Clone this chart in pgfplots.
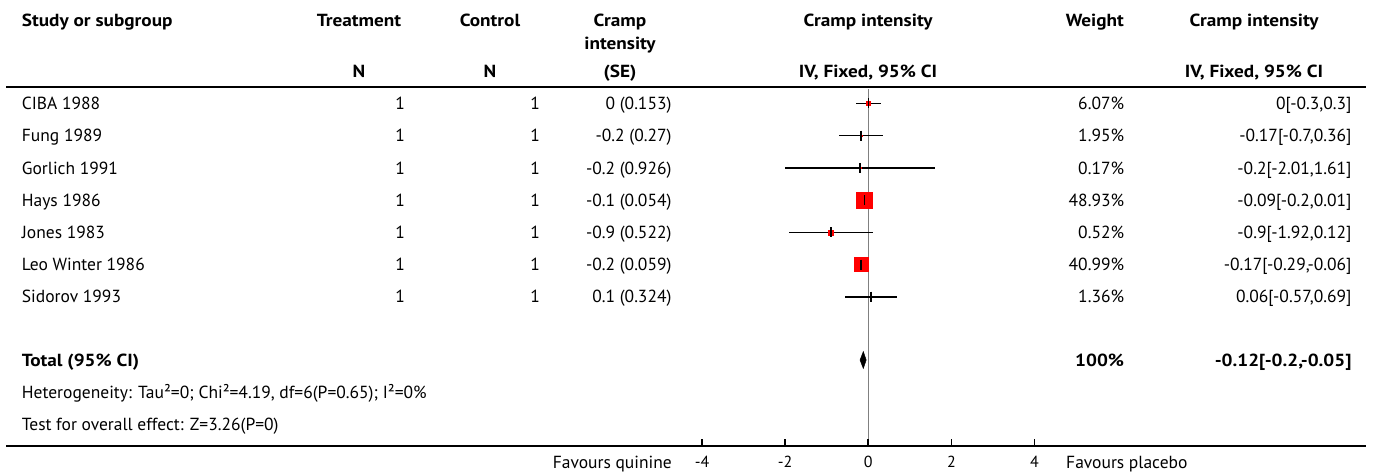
\documentclass[border=0pt]{standalone}
\usepackage{pgfplots}
\pgfplotsset{compat=1.18}
\usepackage{pgfplotstable}
\usepackage{fontspec}
\setmainfont{PT Sans}[BoldFeatures={FakeStretch=1.1}]
\pgfplotstableread{
x y ep em
0 -1 0.3 0.3
-0.17 -2 0.53 0.53
-0.2 -3 1.81 1.81
-0.09 -4 0.10 0.11
-0.9 -5 1.02 1.02
-0.17 -6 0.11 0.12
0.06 -7 0.63 0.63
}\studies
\begin{document}
\fontsize{17.5}{20}\selectfont
\begin{tikzpicture}[every node/.style={inner sep=0pt, text height=0.7em, text depth=0pt}]
\begin{scope}[x=1pt,y=1pt]
\path (0,0) rectangle (1373,475);
% header
\node[anchor=west,font=\bfseries] at (21.7,455) {Study or subgroup};
\node[font=\bfseries] at (359,455) {Treatment};
\node[font=\bfseries] at (359,404) {N};
\node[font=\bfseries] at (490,455) {Control};
\node[font=\bfseries] at (490,404) {N};
\node[font=\bfseries] at (620,455) {Cramp};
\node[font=\bfseries] at (620,432) {intensity};
\node[font=\bfseries] at (620,404) {(SE)};
\node[font=\bfseries] at (868,455) {Cramp intensity};
\node[font=\bfseries] at (868,404) {IV, Fixed, 95\% CI};
\node[anchor=east,font=\bfseries] at (1124,455) {Weight};
\node[font=\bfseries] at (1254,455) {Cramp intensity};
\node[font=\bfseries] at (1254,404) {IV, Fixed, 95\% CI};
\draw[line width=1.2pt] (6,388) -- (1366,388);
% rows
\foreach \n/\se/\w/\ci [count=\i] in {
  CIBA 1988/0 (0.153)/6.07\%/{0[-0.3,0.3]},
  Fung 1989/-0.2 (0.27)/1.95\%/{-0.17[-0.7,0.36]},
  Gorlich 1991/-0.2 (0.926)/0.17\%/{-0.2[-2.01,1.61]},
  Hays 1986/-0.1 (0.054)/48.93\%/{-0.09[-0.2,0.01]},
  Jones 1983/-0.9 (0.522)/0.52\%/{-0.9[-1.92,0.12]},
  Leo Winter 1986/-0.2 (0.059)/40.99\%/{-0.17[-0.29,-0.06]},
  Sidorov 1993/0.1 (0.324)/1.36\%/{0.06[-0.57,0.69]}}{
  \pgfmathsetmacro{\yy}{475-103.5-32.2*(\i-1)}
  \node[anchor=west] at (21.7,\yy) {\n};
  \node[anchor=east] at (405,\yy) {1};
  \node[anchor=east] at (540,\yy) {1};
  \node[anchor=east] at (671.7,\yy) {\se};
  \node[anchor=east] at (1124.3,\yy) {\w};
  \node[anchor=east] at (1351.7,\yy) {\ci};
}
\node[anchor=west,font=\bfseries] at (21.7,115) {Total (95\% CI)};
\node[anchor=east,font=\bfseries] at (1124.3,115) {100\%};
\node[anchor=east,font=\bfseries] at (1351.7,115) {-0.12[-0.2,-0.05]};
\node[anchor=west] at (21.7,83) {Heterogeneity: Tau²=0; Chi²=4.19, df=6(P=0.65); I²=0\%};
\node[anchor=west] at (21.7,51) {Test for overall effect: Z=3.26(P=0)};
\draw[line width=1.2pt] (6,29) -- (1366,29);
\node[anchor=east] at (672,13) {Favours quinine};
\node[anchor=west] at (1066,13) {Favours placebo};
\end{scope}
\begin{axis}[at={(693.8pt,29pt)}, anchor=south west, scale only axis,
  width=349pt, height=357pt, clip=false,
  xmin=-4.2, xmax=4.2, ymin=-11.636, ymax=-0.55,
  axis x line*=bottom, hide y axis,
  x axis line style={-, line width=1.5pt},
  xtick={-4,-2,0,2,4}, xtick align=inside, major tick length=7pt,
  xtick style={draw=black, line width=1.1pt},
  xticklabel style={font=\fontsize{16}{18}\selectfont, text height=0.7em, text depth=0pt, inner sep=0pt, yshift=-9pt},
  /pgf/number format/assume math mode=true]
\draw[gray, line width=1pt] (axis cs:0,-0.55) -- (axis cs:0,-11.636);
\draw[line width=2.2pt] (axis cs:-4.2,-11.636) -- (axis cs:4.2,-11.636);
\pgfplotsinvokeforeach{-4,-2,0,2,4}{\draw[line width=1.8pt] (axis cs:#1,-11.636) -- ++(0pt,7pt);}
\addplot[only marks, mark=square*, mark options={fill=red, draw=red}, mark size=2] coordinates {(0,-1)};
\addplot[only marks, mark=square*, mark options={fill=red, draw=red}, mark size=0.8] coordinates {(-0.17,-2)};
\addplot[only marks, mark=square*, mark options={fill=red, draw=red}, mark size=0.8] coordinates {(-0.2,-3)};
\addplot[only marks, mark=square*, mark options={fill=red, draw=red}, mark size=8] coordinates {(-0.09,-4)};
\addplot[only marks, mark=square*, mark options={fill=red, draw=red}, mark size=2.5] coordinates {(-0.9,-5)};
\addplot[only marks, mark=square*, mark options={fill=red, draw=red}, mark size=7] coordinates {(-0.17,-6)};
\addplot[only marks, mark=square*, mark options={fill=red, draw=red}, mark size=0.8] coordinates {(0.06,-7)};
\addplot[only marks, mark=|, mark size=5, mark options={black, line width=1.6pt},
  error bars/.cd, x dir=both, x explicit, error mark=none,
  error bar style={black, line width=1.6pt}]
  table[x=x, y=y, x error plus=ep, x error minus=em] {\studies};
\addplot[fill=black, draw=black] coordinates {(-0.2,-8.966) (-0.12,-8.70) (-0.05,-8.966) (-0.12,-9.23)} -- cycle;
\end{axis}
\end{tikzpicture}
\end{document}
